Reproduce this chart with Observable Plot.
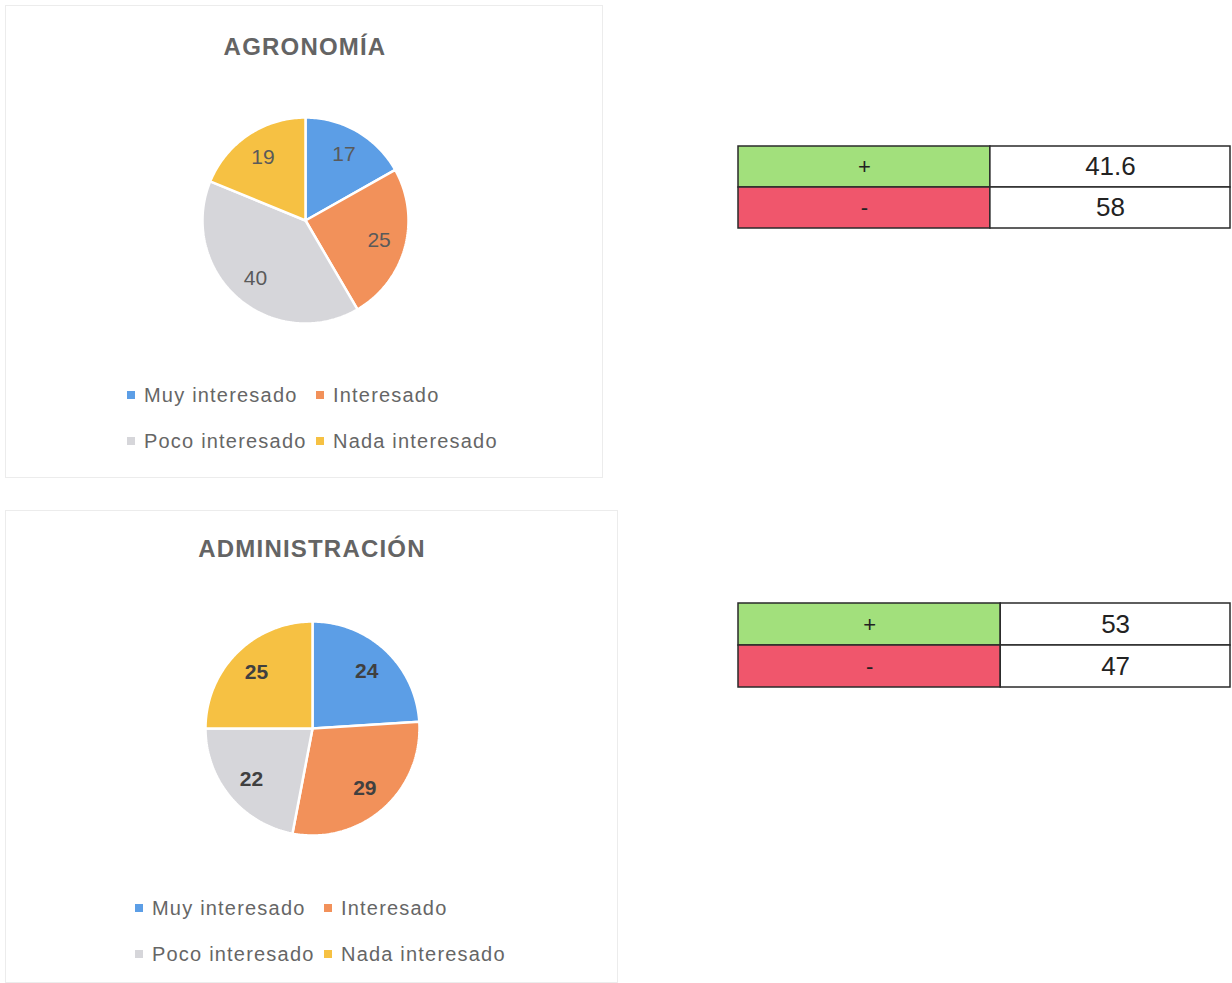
<!DOCTYPE html>
<html><head><meta charset="utf-8">
<script src="https://cdn.jsdelivr.net/npm/d3@7"></script>
<script src="https://cdn.jsdelivr.net/npm/@observablehq/plot@0.6"></script>
<style>
body{margin:0;background:#fff;font-family:"Liberation Sans",Arial,sans-serif;}
#page{position:relative;width:1232px;height:983px;overflow:hidden;background:#fff;}
.frame{position:absolute;border:1px solid #ececec;box-sizing:border-box;}
.title{position:absolute;font-weight:bold;font-size:24px;line-height:28px;letter-spacing:1.2px;color:#646464;transform:translateX(-50%);white-space:nowrap;}
.abs{position:absolute;}
.legend{position:absolute;display:grid;grid-template-columns:189px auto;row-gap:22px;font-size:20px;line-height:24px;letter-spacing:1.2px;color:#666;white-space:nowrap;}
.sw{display:inline-block;width:8px;height:8px;margin-right:9px;vertical-align:middle;position:relative;top:-2px;}
</style></head><body><div id="page"></div>
<script>
// ---- data ----
const categories = ["Muy interesado", "Interesado", "Poco interesado", "Nada interesado"];
const agronomiaValues = [17, 25, 40, 19];
const administracionValues = [24, 29, 22, 25];
const chartTitles = ["AGRONOMÍA", "ADMINISTRACIÓN"];
const tableSigns = ["+", "-"];
const agronomiaTable = [41.6, 58];
const administracionTable = [53, 47];
// ---- styles ----
const sliceColors = ["#5c9ee6", "#f2915a", "#d6d6da", "#f6c143"];
const signColors = ["#a2e07c", "#f0566c"];
const FONT = '"Liberation Sans", Arial, sans-serif';

const page = document.getElementById("page");
function add(el, left, top) { el.style.left = left + "px"; el.style.top = top + "px"; page.appendChild(el); return el; }

function pieChart(values, R, bold, labelColor) {
  const arcs = d3.pie().sort(null)(values);
  const pts = [];
  arcs.forEach((a, i) => {
    const cat = categories[i];
    pts.push({cat, x: 0, y: 0});
    const n = Math.max(2, Math.ceil((a.endAngle - a.startAngle) / (Math.PI / 180)));
    for (let k = 0; k <= n; k++) {
      const t = a.startAngle + (a.endAngle - a.startAngle) * k / n;
      pts.push({cat, x: Math.sin(t), y: Math.cos(t)});
    }
  });
  const labels = arcs.map((a, i) => {
    const m = (a.startAngle + a.endAngle) / 2;
    return {cat: categories[i], v: values[i], x: 0.74 * Math.sin(m), y: 0.74 * Math.cos(m)};
  });
  const pad = 4, size = 2 * R + 2 * pad;
  return Plot.plot({
    width: size, height: size, margin: pad,
    style: {fontFamily: FONT, background: "transparent"},
    x: {domain: [-1, 1], axis: null},
    y: {domain: [-1, 1], axis: null},
    color: {domain: categories, range: sliceColors},
    marks: [
      Plot.line(pts, {x: "x", y: "y", z: "cat", fill: "cat", stroke: "white", strokeWidth: 2.5, curve: "linear-closed", strokeLinejoin: "miter"}),
      Plot.text(labels, {x: "x", y: "y", text: "v", fill: labelColor, fontSize: 21, fontWeight: bold ? "bold" : "normal"})
    ]
  });
}

function legend(left, top) {
  const div = document.createElement("div");
  div.className = "legend";
  categories.forEach((c, i) => {
    const item = document.createElement("div");
    const sw = document.createElement("span");
    sw.className = "sw"; sw.style.background = sliceColors[i];
    item.appendChild(sw);
    item.appendChild(document.createTextNode(c));
    div.appendChild(item);
  });
  return add(div, left, top);
}

function title(text, cx, top) {
  const d = document.createElement("div");
  d.className = "title"; d.textContent = text;
  return add(d, cx, top);
}

function frame(left, top, w, h) {
  const d = document.createElement("div");
  d.className = "frame"; d.style.width = w + "px"; d.style.height = h + "px";
  return add(d, left, top);
}

function table(values, split, height) {
  const rows = tableSigns.map((s, i) => ({sign: s, value: values[i], color: signColors[i]}));
  return Plot.plot({
    width: 494, height, margin: 1,
    style: {fontFamily: FONT, background: "transparent", color: "#222"},
    x: {domain: [0, 1], axis: null},
    y: {domain: tableSigns, axis: null, padding: 0},
    color: {type: "identity"},
    marks: [
      Plot.barX(rows, {x1: 0, x2: split, y: "sign", fill: "color", stroke: "#2a2a2a", strokeWidth: 1.5}),
      Plot.barX(rows, {x1: split, x2: 1, y: "sign", fill: "white", stroke: "#2a2a2a", strokeWidth: 1.5}),
      Plot.text(rows, {x: split / 2, y: "sign", text: "sign", fontSize: 22, fill: "#222"}),
      Plot.text(rows, {x: (1 + split) / 2, y: "sign", text: d => String(d.value), fontSize: 26, fill: "#222"})
    ]
  });
}

// frames
frame(5, 5, 598, 473);
frame(5, 510, 613, 473);

// chart 1
title(chartTitles[0], 305, 33);
const p1 = pieChart(agronomiaValues, 103, false, "#5a5a5a");
p1.classList.add("abs"); add(p1, 198, 113);
legend(127, 383);

// chart 2
title(chartTitles[1], 312, 535);
const p2 = pieChart(administracionValues, 107, true, "#404040");
p2.classList.add("abs"); add(p2, 201, 617);
legend(135, 896);

// tables
const t1 = table(agronomiaTable, 0.512, 85);
t1.classList.add("abs"); add(t1, 737, 144);
const t2 = table(administracionTable, 0.533, 86);
t2.classList.add("abs"); add(t2, 737, 602);
</script>
</body></html>
